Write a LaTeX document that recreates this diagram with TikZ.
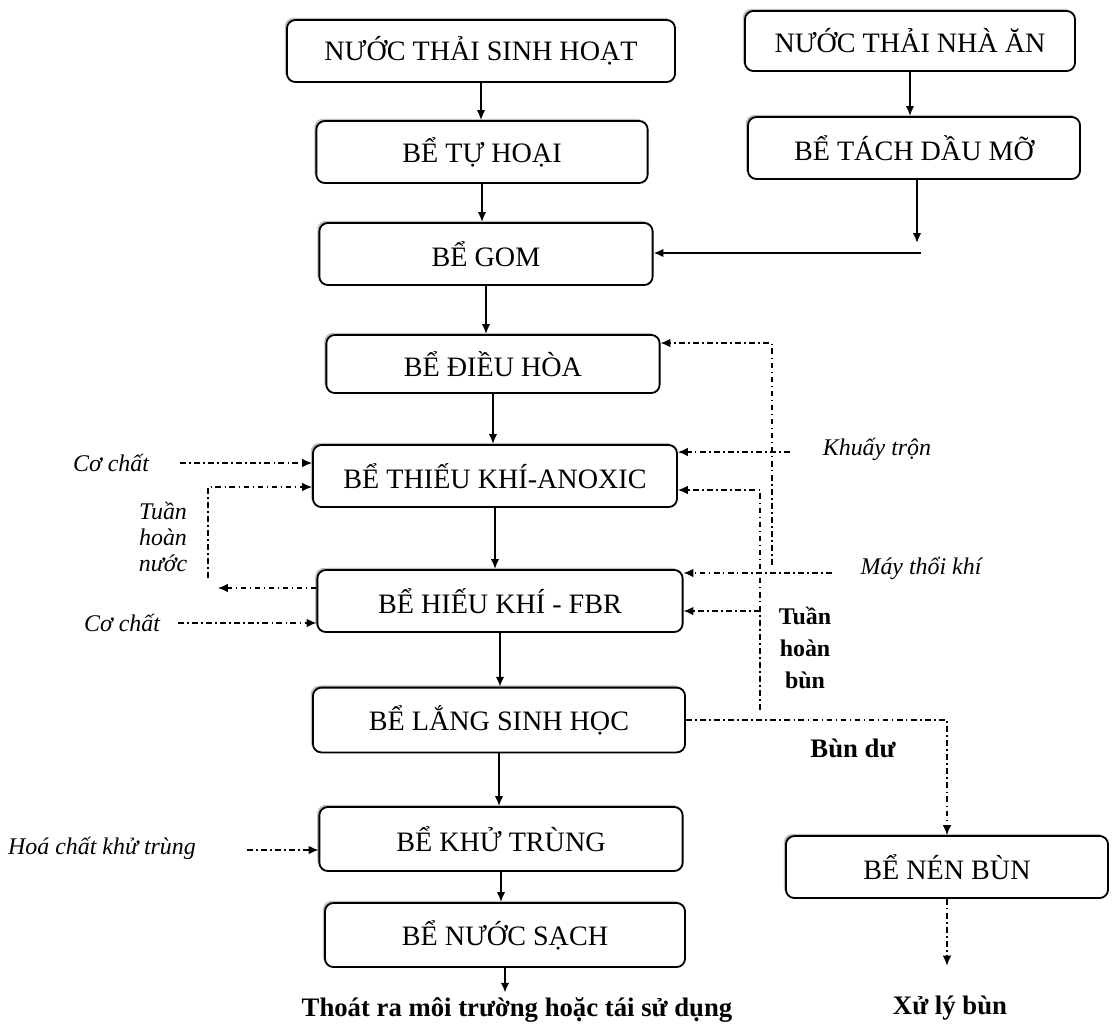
\documentclass[tikz,border=0pt]{standalone}
\usepackage{fontspec}
\setmainfont{Liberation Serif}
\usetikzlibrary{arrows.meta, shadows}

\begin{document}
\begin{tikzpicture}[x=0.025cm, y=-0.025cm]
\tikzstyle{tank}=[draw, rounded corners=6pt, line width=1.3pt, fill=white, minimum height=1.55cm, inner sep=2pt, font=\fontsize{20}{24}\selectfont, general shadow={fill=black!25, shadow xshift=-1.5pt, shadow yshift=1.5pt}]
\tikzstyle{flow}=[line width=1.3pt, -{Latex[length=7pt, width=6pt]}]
\tikzstyle{feed}=[line width=0.8pt, dash pattern=on 4pt off 2.5pt on 1pt off 2.5pt, -{Latex[length=7pt, width=6pt]}]
\tikzstyle{side}=[font=\fontsize{17}{18.5}\selectfont\itshape, align=center]
\tikzstyle{note}=[font=\fontsize{19}{22.7}\selectfont\bfseries, align=center]
\useasboundingbox (0,0) rectangle (1112,1035);

\node[tank, minimum width=9.7cm] (ntsh) at (481,51) {NƯỚC THẢI SINH HOẠT};
\node[tank, minimum width=8.25cm, minimum height=1.5cm] (ntna) at (910,41) {NƯỚC THẢI NHÀ ĂN};
\node[tank, minimum width=8.28cm] (tuhoai) at (482,152) {BỂ TỰ HOẠI};
\node[tank, minimum width=8.3cm] (tachdau) at (914,148) {BỂ TÁCH DẦU MỠ};
\node[tank, minimum width=8.33cm] (gom) at (486,254) {BỂ GOM};
\node[tank, minimum width=8.33cm, minimum height=1.45cm] (dieuhoa) at (493,364) {BỂ ĐIỀU HÒA};
\node[tank, minimum width=9.1cm] (thieukhi) at (495,476) {BỂ THIẾU KHÍ-ANOXIC};
\node[tank, minimum width=9.13cm] (hieukhi) at (500,601) {BỂ HIẾU KHÍ - FBR};
\node[tank, minimum width=9.3cm, minimum height=1.62cm] (lang) at (499,720) {BỂ LẮNG SINH HỌC};
\node[tank, minimum width=9.08cm, minimum height=1.6cm] (khutrung) at (501,839) {BỂ KHỬ TRÙNG};
\node[tank, minimum width=9cm, minimum height=1.6cm] (nuocsach) at (505,935) {BỂ NƯỚC SẠCH};
\node[tank, minimum width=8.05cm] (nenbun) at (947,867) {BỂ NÉN BÙN};

\node[note] (thoat) at (517,1010) {Thoát ra môi trường hoặc tái sử dụng};
\node[note] (xuly) at (950,1008) {Xử lý bùn};
\node[note] (bundu) at (853,748) {Bùn dư};
\node[note, font=\fontsize{17}{22.7}\selectfont\bfseries] (thbun) at (805,648) {Tuần\\hoàn\\bùn};
\node[side] (khuay) at (877,449) {Khuấy trộn};
\node[side] (maythoi) at (921,568) {Máy thổi khí};
\node[side] (cochat1) at (111,463) {Cơ chất};
\node[side] (cochat2) at (122,623) {Cơ chất};
\node[side] (thnuoc) at (163,537) {Tuần\\hoàn\\nước};
\node[side] (hoachat) at (102,848) {Hoá chất khử trùng};

\coordinate (tdend) at (917,243);
\coordinate (gomin) at (921,253);
\coordinate (mix) at (790,452);
\coordinate (air) at (832,573);
\coordinate (airup) at (772,565);
\coordinate (airtop) at (772,343);
\coordinate (rsbot) at (760,710);
\coordinate (rstop) at (760,490);
\coordinate (rsmid) at (760,611);
\coordinate (cc1) at (180,463);
\coordinate (rwtop) at (208,487);
\coordinate (rwbot) at (208,578);
\coordinate (rwout) at (218,588);
\coordinate (cc2) at (178,623);
\coordinate (hc) at (247,850);

\path[flow]
(ntsh.south) edge (ntsh.south |- tuhoai.north)
(tuhoai.south) edge (tuhoai.south |- gom.north)
(gom.south) edge (gom.south |- dieuhoa.north)
(dieuhoa.south) edge (dieuhoa.south |- thieukhi.north)
(thieukhi.south) edge (thieukhi.south |- hieukhi.north)
(hieukhi.south) edge (hieukhi.south |- lang.north)
(lang.south) edge (lang.south |- khutrung.north)
(khutrung.south) edge (khutrung.south |- nuocsach.north)
(nuocsach.south) edge (nuocsach.south |- thoat.north)
(ntna.south) edge (ntna.south |- tachdau.north)
(tachdau.south -| tdend) edge (tdend)
(gomin) edge (gomin -| gom.east);

\draw[feed] (mix) -- (mix -| thieukhi.east);
\draw[feed] (air) -- (air -| hieukhi.east);
\draw[feed] (airup) -- (airtop) -- (airtop -| dieuhoa.east);
\draw[feed] (lang.east) -| (nenbun.north);
\draw[feed] (rsbot) -- (rstop) -- (rstop -| thieukhi.east);
\draw[feed] (rsmid) -- (rsmid -| hieukhi.east);
\draw[feed, shorten >=18pt] (nenbun.south) -- (nenbun.south |- xuly.north);
\draw[feed] (cc1) -- (cc1 -| thieukhi.west);
\draw[feed] (rwbot) -- (rwtop) -- (rwtop -| thieukhi.west);
\draw[feed] (rwout -| hieukhi.west) -- (rwout);
\draw[feed] (cc2) -- (cc2 -| hieukhi.west);
\draw[feed] (hc) -- (hc -| khutrung.west);
\end{tikzpicture}
\end{document}
